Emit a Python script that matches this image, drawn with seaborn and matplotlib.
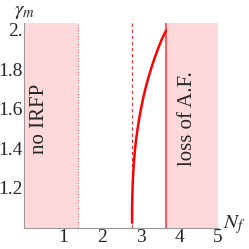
import matplotlib
matplotlib.use("Agg")
import matplotlib.pyplot as plt
import seaborn as sns
import pandas as pd

# curve
gamma_curve = [1.00, 1.05, 1.10, 1.15, 1.20, 1.25, 1.30, 1.35, 1.40, 1.45, 1.50,
               1.55, 1.60, 1.65, 1.70, 1.75, 1.80, 1.85, 1.90, 1.95, 1.995]
nf_curve = [2.778, 2.778, 2.780, 2.784, 2.791, 2.802, 2.816, 2.835, 2.858, 2.887, 2.922,
            2.962, 3.009, 3.062, 3.122, 3.190, 3.266, 3.350, 3.442, 3.545, 3.655]

no_irfp_edge = 1.38
dashed_at = 2.78
loss_start = 3.66
xticks = [1, 2, 3, 4, 5]
yticks = [1.2, 1.4, 1.6, 1.8, 2.0]
ytick_labels = ["1.2", "1.4", "1.6", "1.8", "2."]

sns.set_style("white")
plt.rcParams["font.family"] = ["Liberation Serif", "DejaVu Serif"]
plt.rcParams["mathtext.fontset"] = "stix"

fig = plt.figure(figsize=(2.49, 2.49), dpi=100)
ax = fig.add_axes([0.098, 0.086, 0.778, 0.820])

pink = "#ffd9da"
ax.axvspan(0, no_irfp_edge, color=pink, lw=0, zorder=0)
ax.axvspan(loss_start, 5, color=pink, lw=0, zorder=0)
ax.axvline(no_irfp_edge, color="#ff5050", ls=(0, (1, 1.5)), lw=0.8, zorder=1)
ax.axvline(dashed_at, color="#e03030", ls=(0, (3, 2.5)), lw=0.8, zorder=1)
ax.axvline(loss_start, color="#ff4040", lw=1.2, zorder=2)

df = pd.DataFrame({"Nf": nf_curve, "gamma": gamma_curve})
sns.lineplot(data=df, x="Nf", y="gamma", sort=False, color="red", lw=1.8, ax=ax, zorder=3)

ax.set_xlim(0, 5)
ax.set_ylim(1.0, 2.031)
ax.set_xticks(xticks)
ax.set_xticklabels([str(t) for t in xticks])
ax.set_yticks(yticks)
ax.set_yticklabels(ytick_labels)
ax.set_xlabel("")
ax.set_ylabel("")
ax.tick_params(direction="in", length=3, width=0.6, color="#888888", labelsize=14, pad=1)

for s in ["top", "right"]:
    ax.spines[s].set_visible(False)
for s in ["left", "bottom"]:
    ax.spines[s].set_color("#999999")
    ax.spines[s].set_linewidth(0.8)

ax.text(0.4, 1.55, "no IRFP", rotation=90, ha="center", va="center", fontsize=15)
ax.text(4.22, 1.55, "loss of A.F.", rotation=90, ha="center", va="center", fontsize=15)

fig.text(0.10, 0.955, r"$\gamma_m$", ha="center", va="center", fontsize=15)
fig.text(0.94, 0.097, r"$N_f$", ha="center", va="center", fontsize=15)

fig.savefig("out.png", dpi=100)
